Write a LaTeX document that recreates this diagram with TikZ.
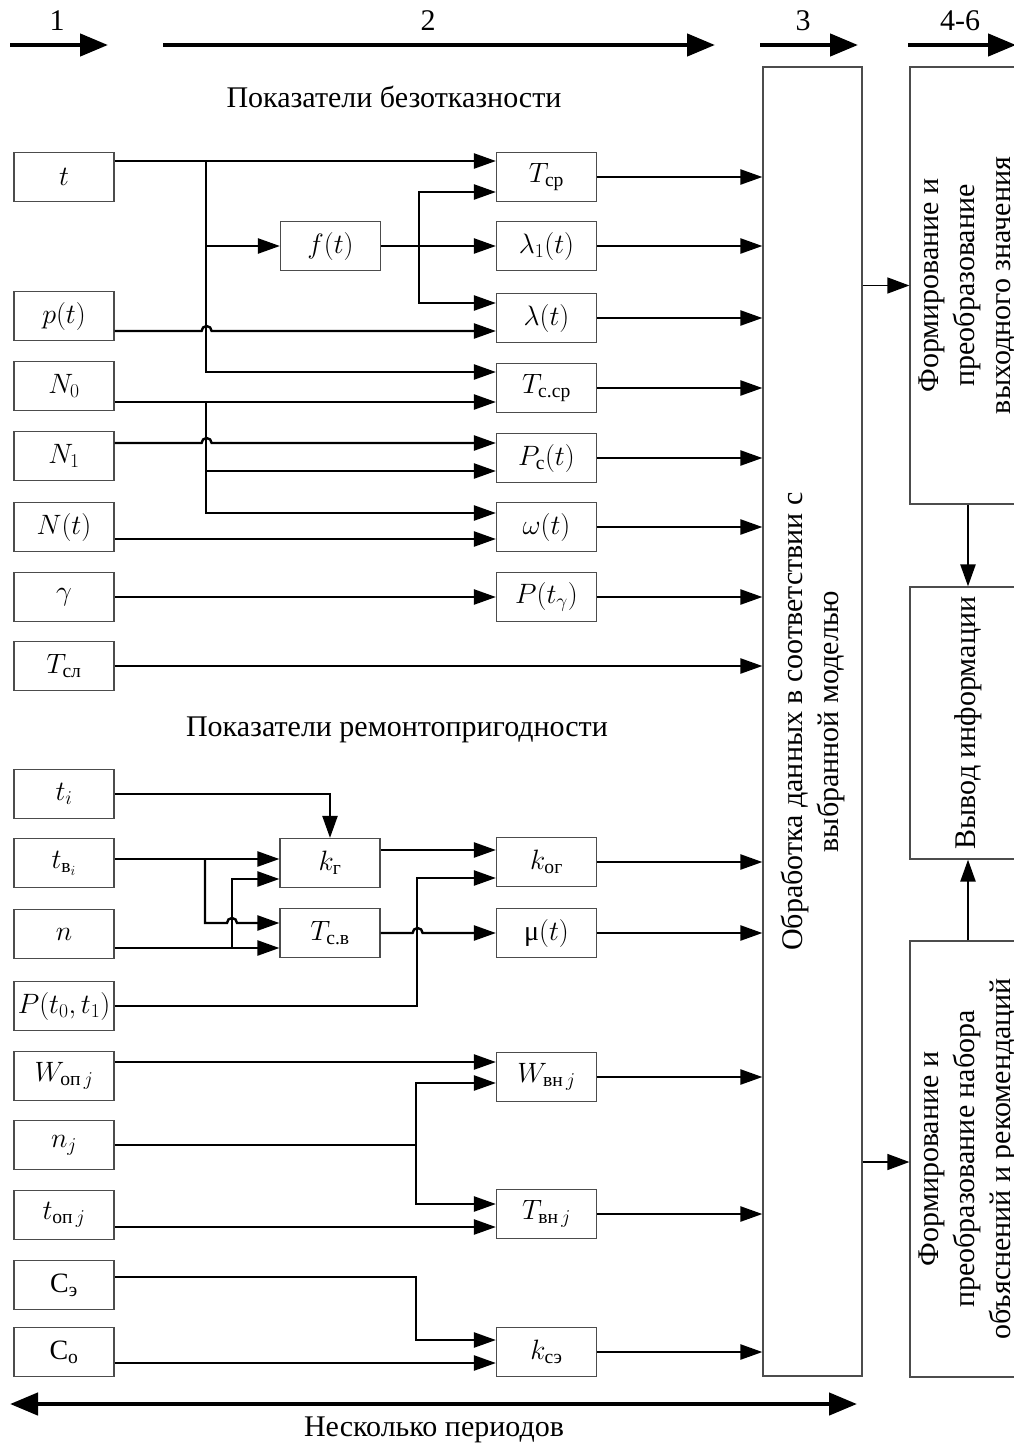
\RequirePackage{fix-cm}
\documentclass[tikz,border=0pt]{standalone}
\usepackage{amsmath}
\usepackage{fontspec}
\setmainfont{Liberation Serif}
\usetikzlibrary{arrows.meta}

\begin{document}
\begin{tikzpicture}[x=1pt, y=-1pt,
	blk/.style={draw=black!70, line width=1.2pt, minimum width=100pt, minimum height=49pt, inner sep=0pt, font=\fontsize{28}{32}\selectfont},
	tall/.style={draw=black!70, line width=1.2pt, rotate=90, align=center, inner sep=0pt, font=\fontsize{30}{36}\selectfont},
	txt/.style={inner sep=0pt, font=\fontsize{30}{36}\selectfont},
	wire/.style={line width=2.4pt},
	conn/.style={line width=2.4pt, -{Stealth[length=22pt, width=15pt, inset=0pt]}},
	lightconn/.style={line width=1.4pt, -{Stealth[length=22pt, width=16pt, inset=0pt]}},
	bigarrow/.style={line width=4.5pt, -{Stealth[length=28pt, width=22pt, inset=0pt]}},
	bigboth/.style={line width=4.5pt, {Stealth[length=28pt, width=22pt, inset=0pt]}-{Stealth[length=28pt, width=22pt, inset=0pt]}}]
	\useasboundingbox (0,0) rectangle (1014,1443);

	% stages
	\node[txt, anchor=base] (s1) at (57,30) {1};
	\node[txt, anchor=base] (s2) at (428,30) {2};
	\node[txt, anchor=base] (s3) at (803,30) {3};
	\node[txt, anchor=base] (s4) at (960,30) {4-6};
	\draw[bigarrow] (10,45) -- (108,45);
	\draw[bigarrow] (163,45) -- (715,45);
	\draw[bigarrow] (760,45) -- (858,45);
	\draw[bigarrow] (908,45) -- (1016,45);

	\node[txt, anchor=base] (h1) at (394,107) {Показатели безотказности};
	\node[txt, anchor=base] (h2) at (397,736) {Показатели ремонтопригодности};

	% inputs
	\node[blk] (t) at (64,177) {$t$};
	\node[blk] (p) at (64,316) {$p(t)$};
	\node[blk] (N0) at (64,386) {$N_0$};
	\node[blk] (N1) at (64,456) {$N_1$};
	\node[blk] (Nt) at (64,527) {$N(t)$};
	\node[blk] (gam) at (64,597) {$\gamma$};
	\node[blk] (Tsl) at (64,666) {$T_{\text{сл}}$};
	\node[blk] (ti) at (64,794) {$t_i$};
	\node[blk] (tvi) at (64,863) {$t_{\text{в}_i}$};
	\node[blk] (n) at (64,934) {$n$};
	\node[blk] (P01) at (64,1006) {$P(t_0,t_1)$};
	\node[blk] (Wop) at (64,1076) {$W_{\text{оп}\,j}$};
	\node[blk] (nj) at (64,1145) {$n_j$};
	\node[blk] (topj) at (64,1215) {$t_{\text{оп}\,j}$};
	\node[blk] (Ce) at (64,1285) {$\text{С}_{\text{э}}$};
	\node[blk] (Co) at (64,1352) {$\text{С}_{\text{о}}$};

	% intermediate
	\node[blk] (f) at (330.5,246) {$f(t)$};
	\node[blk] (kg) at (330,863) {$k_{\text{г}}$};
	\node[blk] (Tcv) at (330,933) {$T_{\text{с.в}}$};

	% indicators
	\node[blk] (Tcp) at (546.5,177) {$T_{\text{ср}}$};
	\node[blk] (lam1) at (546.5,246) {$\lambda_1(t)$};
	\node[blk] (lam) at (546.5,318) {$\lambda(t)$};
	\node[blk] (Tccp) at (546.5,388) {$T_{\text{с.ср}}$};
	\node[blk] (Pc) at (546.5,458) {$P_{\text{с}}(t)$};
	\node[blk] (om) at (546.5,527) {$\omega(t)$};
	\node[blk] (Ptg) at (546.5,597) {$P(t_\gamma)$};
	\node[blk] (kog) at (546.5,862) {$k_{\text{ог}}$};
	\node[blk] (mu) at (546.5,933) {$\text{μ}(t)$};
	\node[blk] (Wvn) at (546.5,1077) {$W_{\text{вн}\,j}$};
	\node[blk] (Tvn) at (546.5,1214) {$T_{\text{вн}\,j}$};
	\node[blk] (kce) at (546.5,1352) {$k_{\text{сэ}}$};

	\node[tall, minimum width=1309pt, minimum height=99pt] (proc) at (812.5,721.5) {Обработка данных в соответствии с\\выбранной моделью};
	\node[tall, minimum width=437pt, minimum height=116pt] (form1) at (968,285.5) {Формирование и\\преобразование\\выходного значения};
	\node[tall, minimum width=272pt, minimum height=116pt] (outp) at (968,723) {Вывод информации};
	\node[tall, minimum width=436pt, minimum height=116pt] (form2) at (968,1159) {Формирование и\\преобразование набора\\объяснений и рекомендаций};

	% reliability
	\coordinate (b1) at (206,161);
	\coordinate (b2) at (419,246);
	\coordinate (b3) at (206,402);
	\draw[conn] ([yshift=16pt]t.east) -- ([yshift=16pt]Tcp.west);
	\draw[conn] (b1) |- ([yshift=16pt]Tccp.west);
	\draw[conn] (b1 |- f.west) -- (f.west);
	\draw[conn] (f.east) -- (lam1.west);
	\draw[conn] (b2) |- ([yshift=-15pt]Tcp.west);
	\draw[conn] (b2) |- ([yshift=15pt]lam.west);
	\draw[conn] ([yshift=-15pt]p.east) -- ++(87,0) arc[start angle=180, delta angle=-180, radius=5pt] -- ([yshift=-13pt]lam.west);
	\draw[conn] ([yshift=-16pt]N0.east) -- ([yshift=-14pt]Tccp.west);
	\draw[conn] (b3) |- ([yshift=-13pt]Pc.west);
	\draw[conn] (b3) |- ([yshift=14pt]om.west);
	\draw[conn] ([yshift=13pt]N1.east) -- ++(87,0) arc[start angle=180, delta angle=-180, radius=5pt] -- ([yshift=15pt]Pc.west);
	\draw[conn] ([yshift=-12pt]Nt.east) -- ([yshift=-12pt]om.west);
	\draw[conn] (gam.east) -- (Ptg.west);
	\draw[conn] (Tsl.east) -- (Tsl.east -| proc.north);

	% maintainability
	\coordinate (b4) at (205,859);
	\coordinate (b5) at (232,948);
	\coordinate (b6) at (417,1006);
	\draw[conn] (ti.east) -| (kg.north);
	\draw[conn] ([yshift=4pt]tvi.east) -- ([yshift=4pt]kg.west);
	\draw[conn] (b4) -- ++(0,64) -- ++(22,0) arc[start angle=180, delta angle=-180, radius=5pt] -- ([yshift=10pt]Tcv.west);
	\draw[conn] ([yshift=-14pt]n.east) -- ([yshift=-15pt]Tcv.west);
	\draw[conn] (b5) |- ([yshift=-16pt]kg.west);
	\draw[conn] ([yshift=13pt]kg.east) -- ([yshift=12pt]kog.west);
	\draw[conn] (P01.east) -- (b6) |- ([yshift=-16pt]kog.west);
	\draw[conn] (Tcv.east) -- ++(32,0) arc[start angle=180, delta angle=-180, radius=5pt] -- (mu.west);

	\coordinate (b7) at (416,1145);
	\coordinate (b8) at (416,1277);
	\draw[conn] ([yshift=14pt]Wop.east) -- ([yshift=15pt]Wvn.west);
	\draw[wire] (nj.east) -- (b7);
	\draw[conn] (b7) |- ([yshift=-6pt]Wvn.west);
	\draw[conn] (b7) |- ([yshift=10pt]Tvn.west);
	\draw[conn] ([yshift=-12pt]topj.east) -- ([yshift=-13pt]Tvn.west);
	\draw[conn] ([yshift=8pt]Ce.east) -- (b8) |- ([yshift=12pt]kce.west);
	\draw[conn] ([yshift=-11pt]Co.east) -- ([yshift=-11pt]kce.west);

	% to processing block
	\draw[conn] (Tcp.east) -- (Tcp.east -| proc.north);
	\draw[conn] (lam1.east) -- (lam1.east -| proc.north);
	\draw[conn] (lam.east) -- (lam.east -| proc.north);
	\draw[conn] (Tccp.east) -- (Tccp.east -| proc.north);
	\draw[conn] (Pc.east) -- (Pc.east -| proc.north);
	\draw[conn] (om.east) -- (om.east -| proc.north);
	\draw[conn] (Ptg.east) -- (Ptg.east -| proc.north);
	\draw[conn] (kog.east) -- (kog.east -| proc.north);
	\draw[conn] (mu.east) -- (mu.east -| proc.north);
	\draw[conn] (Wvn.east) -- (Wvn.east -| proc.north);
	\draw[conn] (Tvn.east) -- (Tvn.east -| proc.north);
	\draw[conn] (kce.east) -- (kce.east -| proc.north);

	\draw[lightconn] (proc.south |- form1.north) -- (form1.north);
	\draw[lightconn] ([yshift=-3pt]form2.north -| proc.south) -- ([yshift=-3pt]form2.north);
	\draw[conn] (form1.west) -- (outp.east);
	\draw[conn] (form2.east) -- (outp.west);

	\draw[bigboth] (10,1404) -- (857,1404);
	\node[txt, anchor=base] (h3) at (434,1436) {Несколько периодов};
\end{tikzpicture}
\end{document}
